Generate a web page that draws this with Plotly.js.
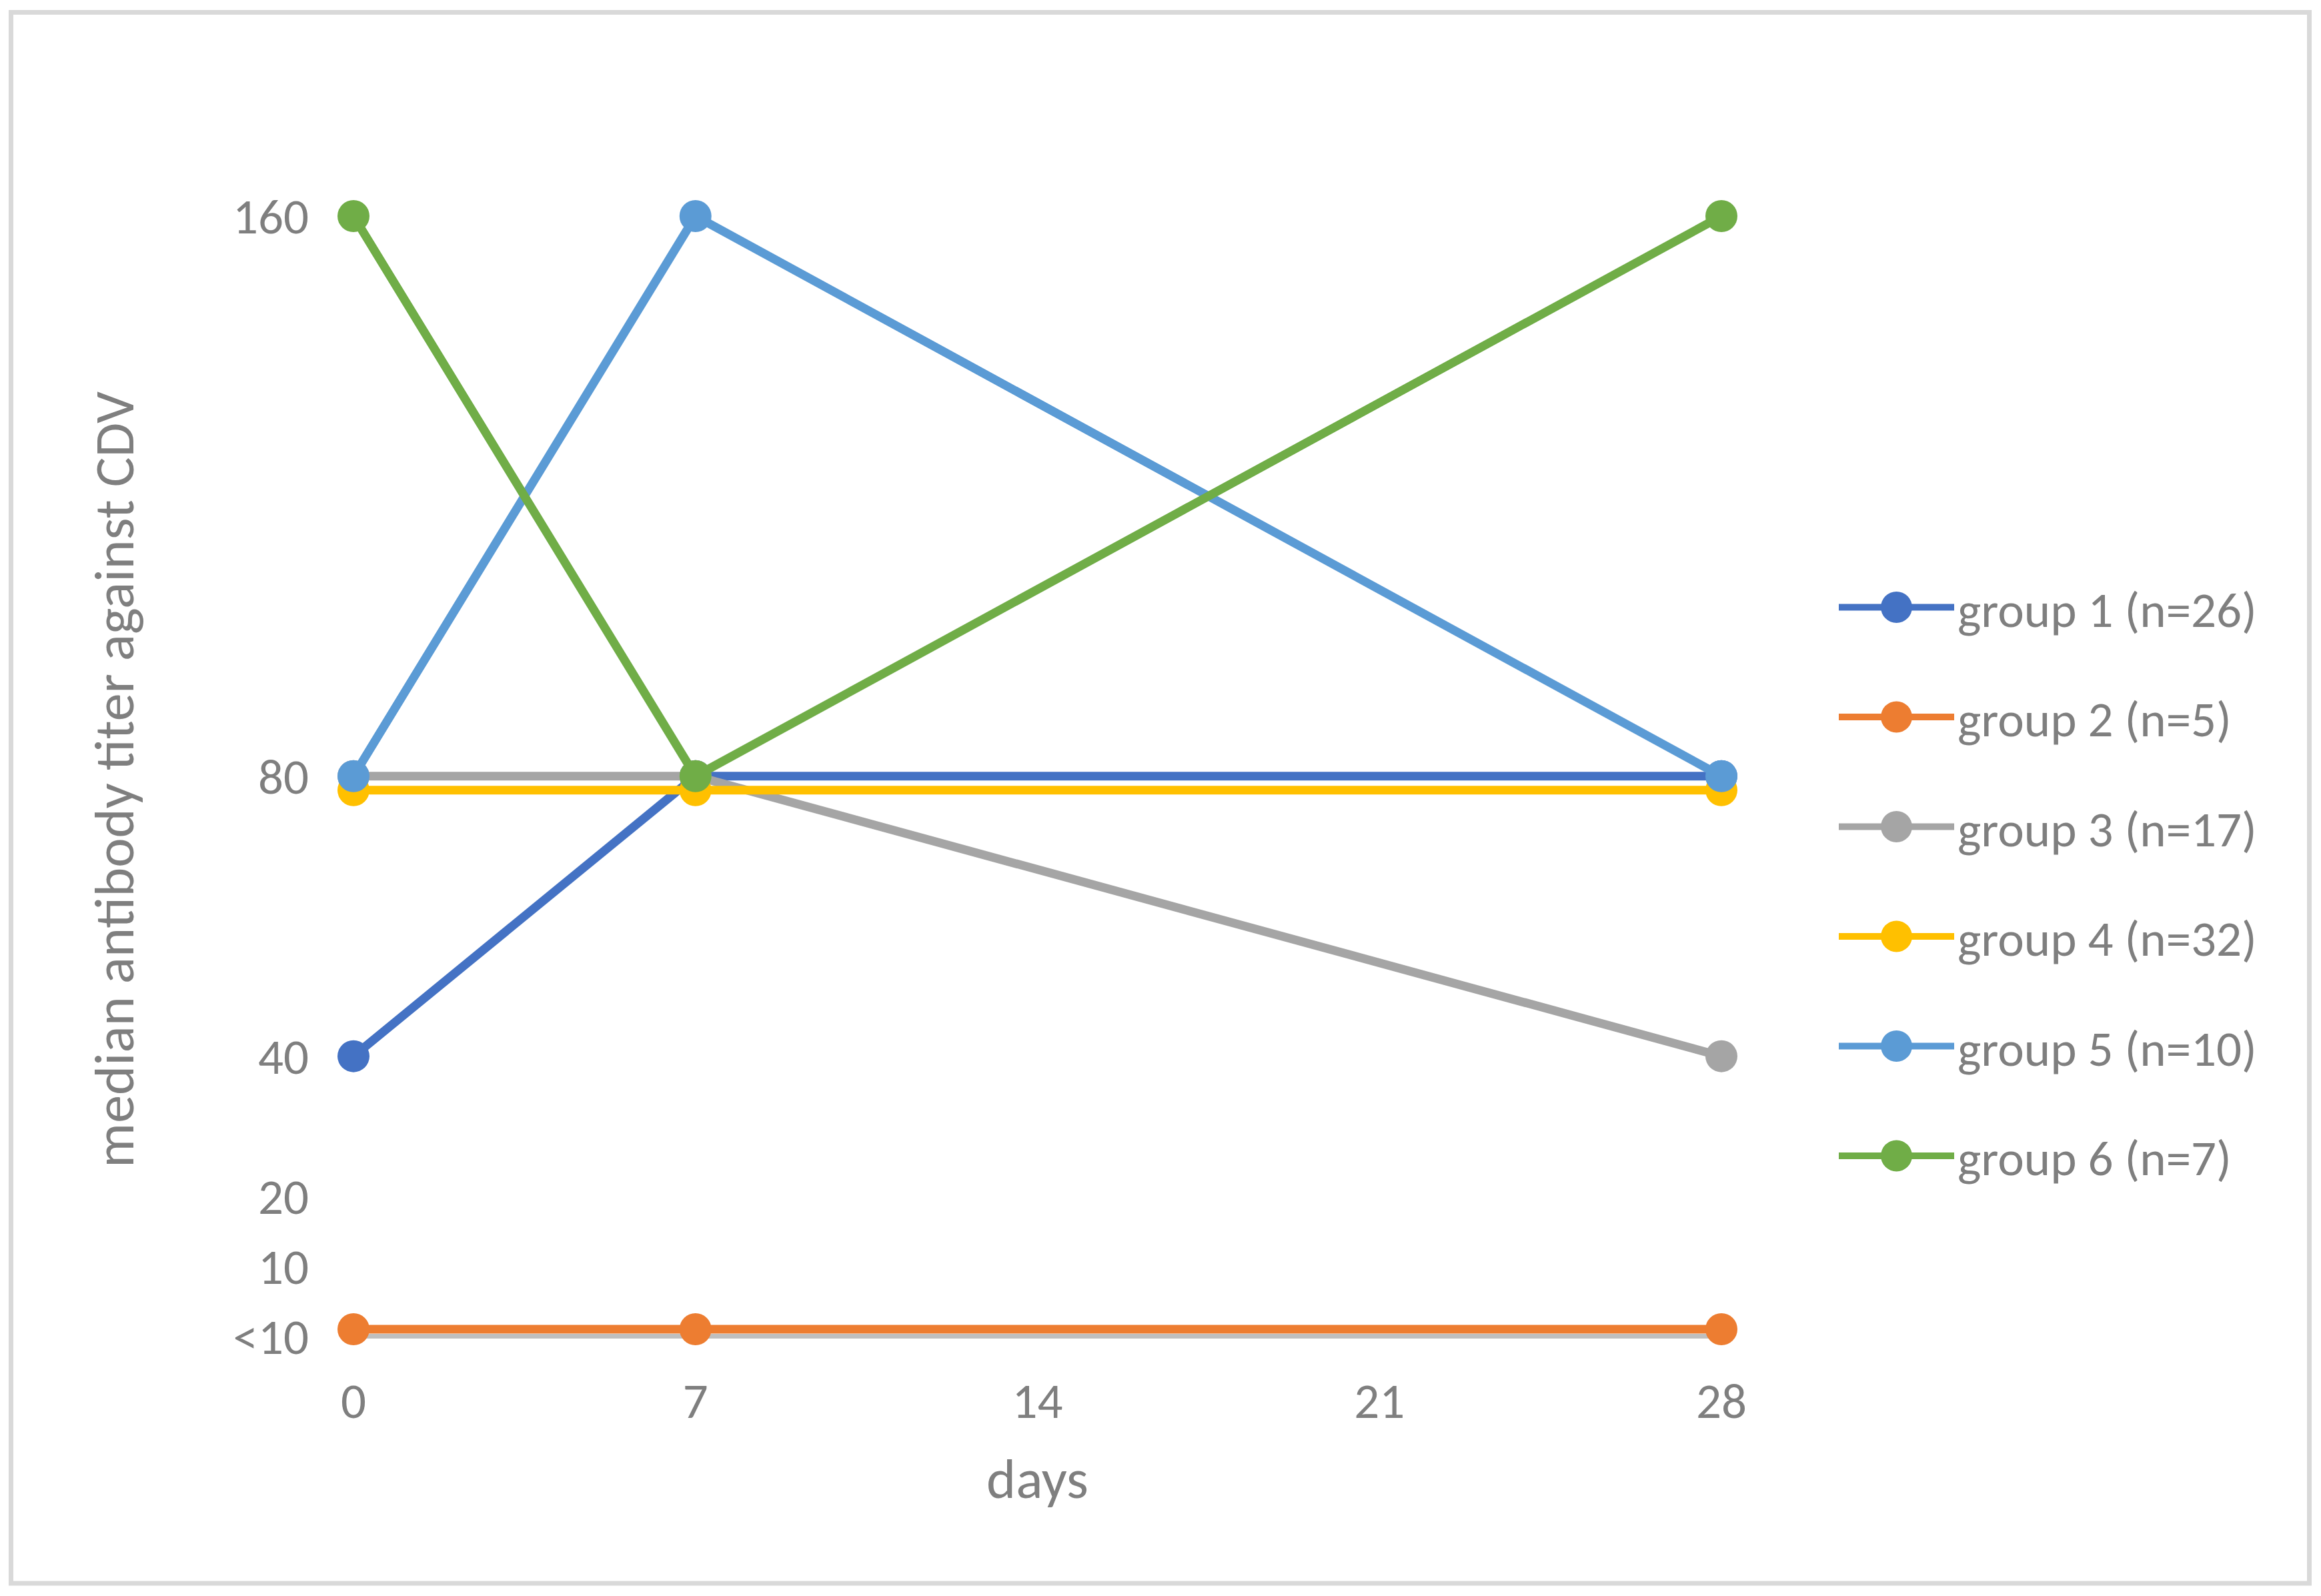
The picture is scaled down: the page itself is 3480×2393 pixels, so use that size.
<!DOCTYPE html>
<html>
<head>
<meta charset="utf-8">
<script src="https://cdn.plot.ly/plotly-3.0.1.min.js"></script>
<style>
  html, body { margin: 0; padding: 0; background: #ffffff; }
  #chart { width: 3480px; height: 2393px; }
</style>
</head>
<body>
<div id="chart"></div>
<script>
// ---- data ----
const days = [0, 7, 28];
const groupNames = ['group 1 (n=26)', 'group 2 (n=5)', 'group 3 (n=17)', 'group 4 (n=32)', 'group 5 (n=10)', 'group 6 (n=7)'];
const group1 = [40, 80, 80];
const group2 = [1, 1, 1];
const group3 = [80, 80, 40];
const group4 = [78, 78, 78];
const group5 = [80, 160, 80];
const group6 = [160, 80, 160];
const xTickVals = [0, 7, 14, 21, 28];
const yTickVals = [0, 10, 20, 40, 80, 160];
const yTickText = ['<10', '10', '20', '40', '80', '160'];
const colors = ['#4472C4', '#ED7D31', '#A5A5A5', '#FFC000', '#5B9BD5', '#70AD47'];

const FONT = 'Carlito, Calibri, Lato, sans-serif';
const TXT = '#7F7F7F';

// ---- geometry ----
const W = 3480, H = 2393;
const ml = 530, mr = W - 2581;
const mt = 324, mb = H - 2014.5;
const pw = W - ml - mr, ph = H - mt - mb;
const yMin = -1, yMax = 160;
const px2x = X => (X - ml) / pw;
const px2y = Y => (H - mb - Y) / ph;

const series = [group1, group2, group3, group4, group5, group6];
const traces = series.map((vals, i) => ({
  type: 'scatter',
  mode: 'lines+markers',
  x: days,
  y: vals,
  name: groupNames[i],
  legendgroup: 'g' + i,
  line: { color: colors[i], width: 13 },
  marker: { color: colors[i], size: 48, line: { width: 0 } },
  cliponaxis: false,
  hoverinfo: 'skip'
}));

const layout = {
  width: W, height: H,
  margin: { l: ml, r: mr, t: mt, b: mb, pad: 0 },
  paper_bgcolor: '#ffffff',
  plot_bgcolor: '#ffffff',
  font: { family: FONT, color: TXT, size: 75 },
  showlegend: true,
  legend: {
    x: px2x(2752), xanchor: 'left',
    y: px2y(1322), yanchor: 'middle',
    font: { family: FONT, size: 75, color: TXT },
    itemwidth: 173,
    tracegroupgap: 64,
    traceorder: 'grouped',
    bgcolor: 'rgba(0,0,0,0)',
    borderwidth: 0
  },
  xaxis: {
    range: [0, 28],
    tickvals: xTickVals,
    ticktext: xTickVals.map(String),
    showgrid: false,
    zeroline: false,
    showline: false,
    ticks: '',
    ticklabelstandoff: 36,
    tickfont: { family: FONT, size: 75, color: TXT },
    title: { text: 'days', font: { family: FONT, size: 84, color: TXT }, standoff: 42 },
    fixedrange: true
  },
  yaxis: {
    range: [yMin, yMax],
    tickvals: yTickVals,
    ticktext: yTickText,
    showgrid: false,
    zeroline: true,
    zerolinecolor: '#BFBFBF',
    zerolinewidth: 7,
    showline: false,
    ticks: '',
    ticklabelstandoff: 66,
    tickfont: { family: FONT, size: 75, color: TXT },
    title: { text: 'median antibody titer against CDV', font: { family: FONT, size: 84, color: TXT }, standoff: 120 },
    fixedrange: true
  },
  shapes: [{
    type: 'rect', xref: 'paper', yref: 'paper',
    x0: px2x(16.5), x1: px2x(3462.5),
    y0: px2y(2374.5), y1: px2y(18.5),
    line: { color: '#D9D9D9', width: 7 },
    fillcolor: 'rgba(0,0,0,0)',
    layer: 'below'
  }]
};

Plotly.newPlot('chart', traces, layout, { staticPlot: true, displayModeBar: false }).then(gd => {
  const r = 23.5;
  const circle = 'M' + r + ',0A' + r + ',' + r + ' 0 1,1 0,-' + r + 'A' + r + ',' + r + ' 0 0,1 ' + r + ',0Z';
  gd.querySelectorAll('.legend .legendpoints path.scatterpts').forEach(p => p.setAttribute('d', circle));
});
</script>
</body>
</html>
